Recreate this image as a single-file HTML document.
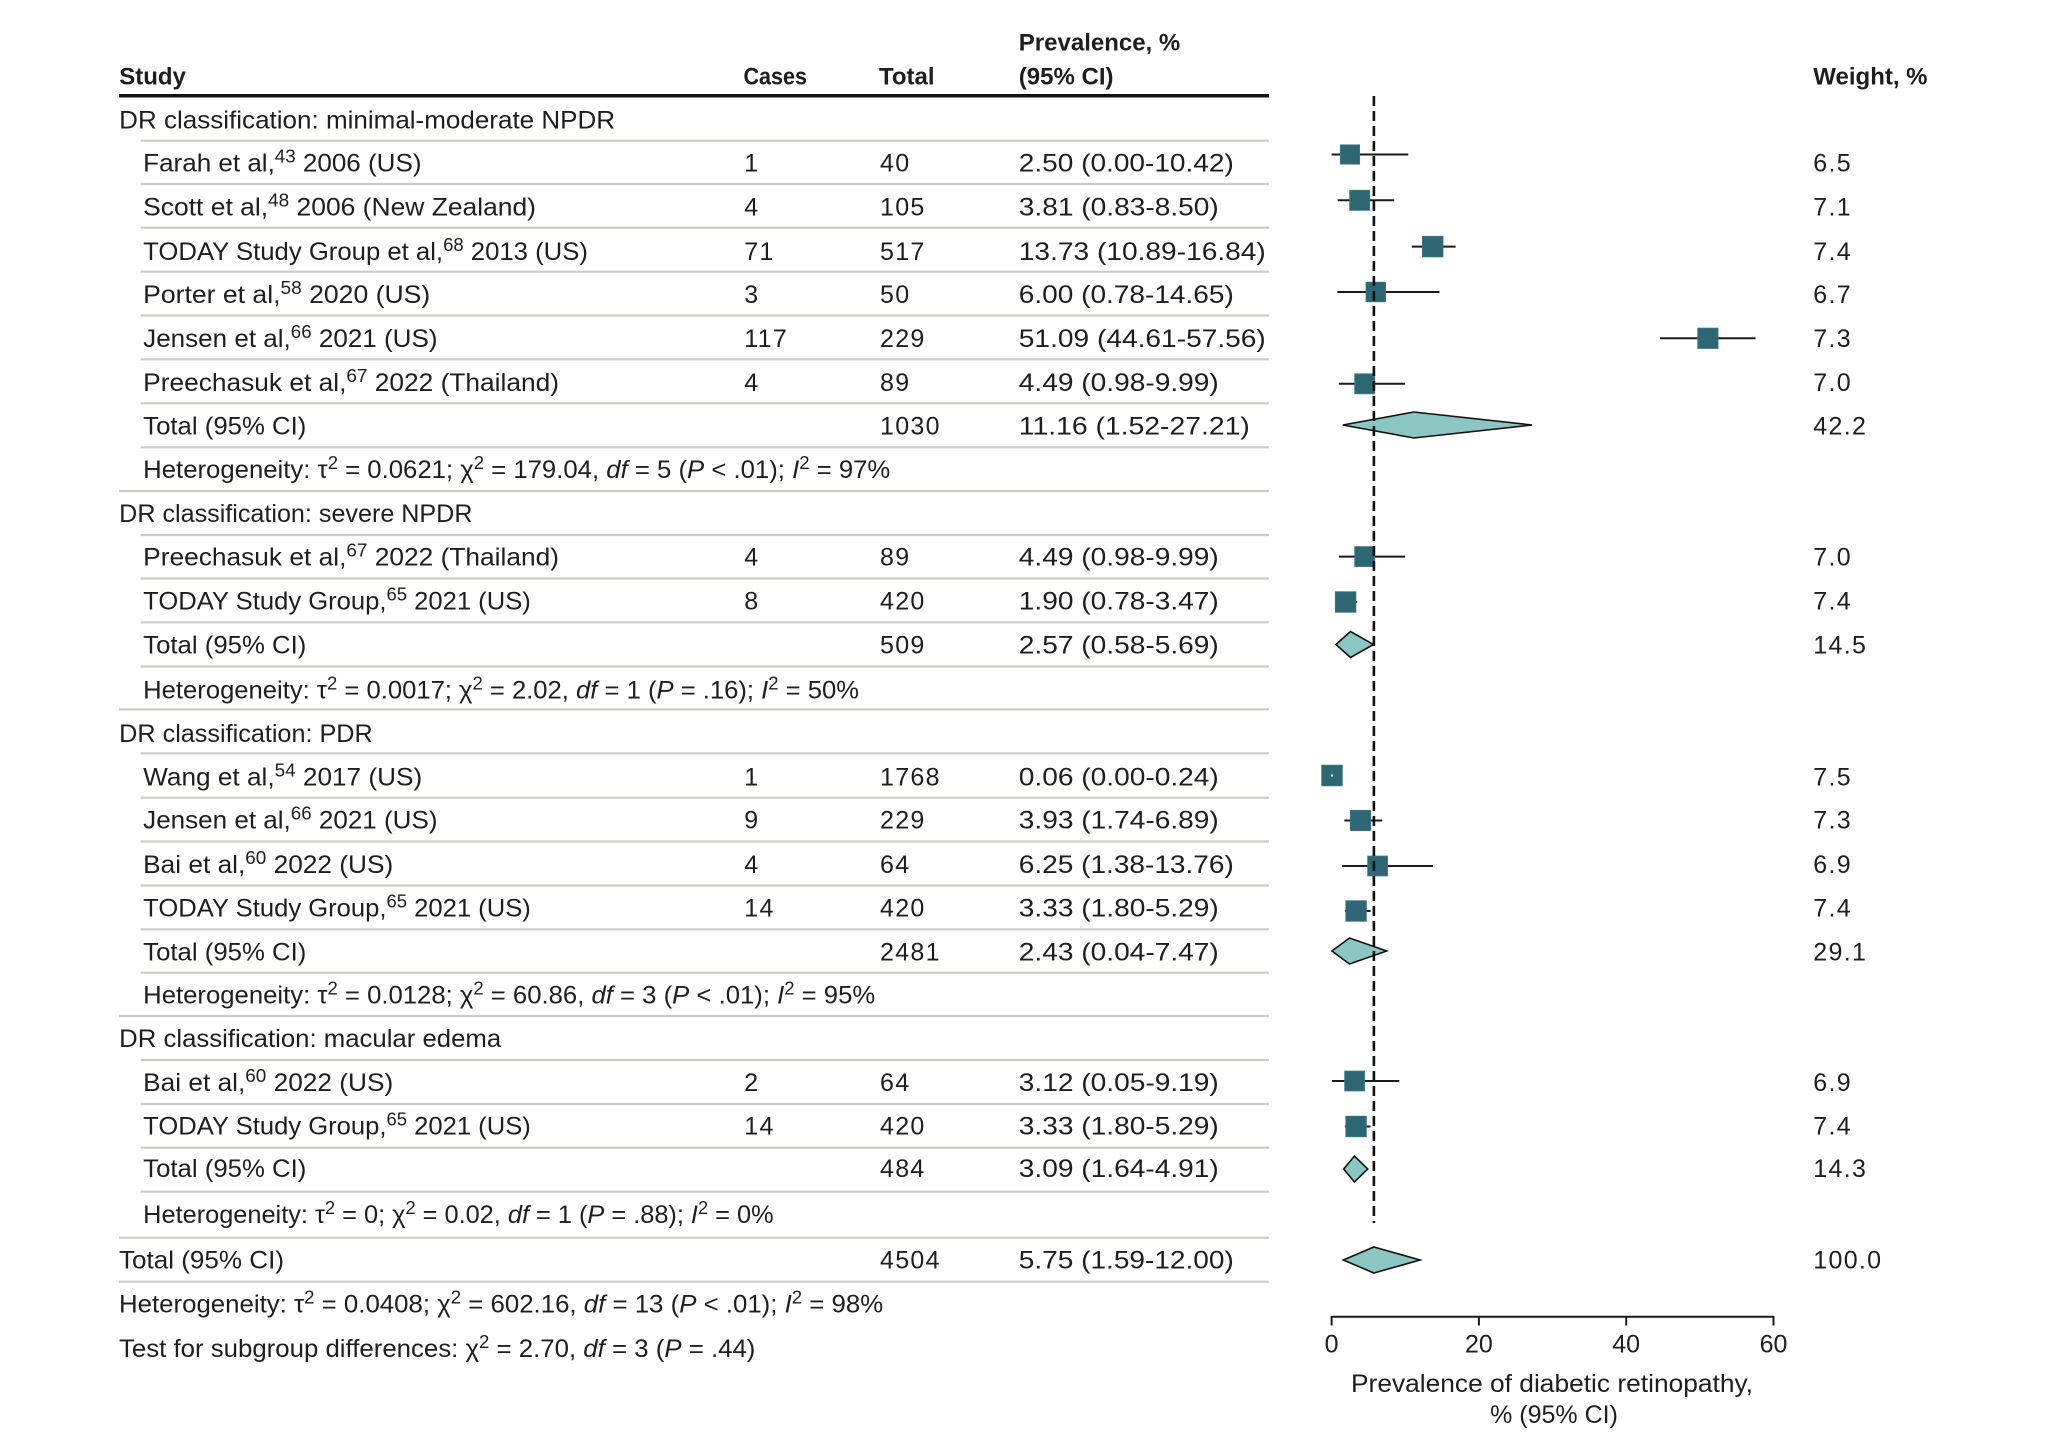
<!DOCTYPE html>
<html>
<head>
<meta charset="utf-8">
<style>
html,body{margin:0;padding:0;background:#fff;}
svg{display:block;}
text{font-family:"Liberation Sans",Arial,sans-serif;font-size:25px;fill:#1e1e1e;}
.b{font-weight:bold;font-size:24px;}
.n{letter-spacing:1.3px;}
.t{font-size:25px;}
</style>
</head>
<body>
<svg width="2048" height="1451" viewBox="0 0 2048 1451" xmlns="http://www.w3.org/2000/svg">
<rect width="2048" height="1451" fill="#fff"/>

<!-- Header -->
<text class="b" x="119.2" y="84.3">Study</text>
<text class="b" x="743.5" y="84.3" textLength="63.5" lengthAdjust="spacingAndGlyphs">Cases</text>
<text class="b" x="879" y="84.3">Total</text>
<text class="b" x="1018.8" y="50.7">Prevalence, %</text>
<text class="b" x="1018.8" y="84.3">(95% CI)</text>
<text class="b" x="1813.3" y="84.3">Weight, %</text>
<line x1="119" y1="95.7" x2="1269" y2="95.7" stroke="#111" stroke-width="3.5"/>

<!-- Row separator lines -->
<g stroke="#cbcbc8" stroke-width="2.2">
<line x1="140.6" y1="140.7" x2="1269" y2="140.7"/>
<line x1="140.6" y1="184" x2="1269" y2="184"/>
<line x1="140.6" y1="227.7" x2="1269" y2="227.7"/>
<line x1="140.6" y1="271.7" x2="1269" y2="271.7"/>
<line x1="140.6" y1="315.5" x2="1269" y2="315.5"/>
<line x1="140.6" y1="359.3" x2="1269" y2="359.3"/>
<line x1="140.6" y1="403.3" x2="1269" y2="403.3"/>
<line x1="140.6" y1="447.3" x2="1269" y2="447.3"/>
<line x1="119" y1="491" x2="1269" y2="491"/>
<line x1="140.6" y1="535" x2="1269" y2="535"/>
<line x1="140.6" y1="578.5" x2="1269" y2="578.5"/>
<line x1="140.6" y1="622.3" x2="1269" y2="622.3"/>
<line x1="140.6" y1="666.5" x2="1269" y2="666.5"/>
<line x1="119" y1="709.3" x2="1269" y2="709.3"/>
<line x1="140.6" y1="753.3" x2="1269" y2="753.3"/>
<line x1="140.6" y1="797.7" x2="1269" y2="797.7"/>
<line x1="140.6" y1="841.5" x2="1269" y2="841.5"/>
<line x1="140.6" y1="885.5" x2="1269" y2="885.5"/>
<line x1="140.6" y1="929.3" x2="1269" y2="929.3"/>
<line x1="140.6" y1="972.7" x2="1269" y2="972.7"/>
<line x1="119" y1="1016" x2="1269" y2="1016"/>
<line x1="140.6" y1="1060" x2="1269" y2="1060"/>
<line x1="140.6" y1="1104" x2="1269" y2="1104"/>
<line x1="140.6" y1="1147.7" x2="1269" y2="1147.7"/>
<line x1="140.6" y1="1191.7" x2="1269" y2="1191.7"/>
<line x1="119" y1="1237.7" x2="1269" y2="1237.7"/>
<line x1="119" y1="1281.7" x2="1269" y2="1281.7"/>
</g>

<!-- Group 1 -->
<text x="119.2" y="128.7" textLength="495.9" lengthAdjust="spacingAndGlyphs">DR classification: minimal-moderate NPDR</text>

<text x="143.2" y="171.7" textLength="278.3" lengthAdjust="spacingAndGlyphs">Farah et al,<tspan dy="-9" font-size="18">43</tspan><tspan dy="9"> 2006 (US)</tspan></text>
<text class="n" x="744.3" y="171.7">1</text>
<text class="n" x="880" y="171.7">40</text>
<text x="1018.8" y="171.7" textLength="215" lengthAdjust="spacingAndGlyphs">2.50 (0.00-10.42)</text>
<text class="n" x="1813.3" y="171.7">6.5</text>

<text x="143.2" y="215.7" textLength="392.8" lengthAdjust="spacingAndGlyphs">Scott et al,<tspan dy="-9" font-size="18">48</tspan><tspan dy="9"> 2006 (New Zealand)</tspan></text>
<text class="n" x="744.3" y="215.7">4</text>
<text class="n" x="880" y="215.7">105</text>
<text x="1018.8" y="215.7" textLength="200" lengthAdjust="spacingAndGlyphs">3.81 (0.83-8.50)</text>
<text class="n" x="1813.3" y="215.7">7.1</text>

<text x="143.2" y="260" textLength="444.7" lengthAdjust="spacingAndGlyphs">TODAY Study Group et al,<tspan dy="-9" font-size="18">68</tspan><tspan dy="9"> 2013 (US)</tspan></text>
<text class="n" x="744.3" y="260">71</text>
<text class="n" x="880" y="260">517</text>
<text x="1018.8" y="260" textLength="247" lengthAdjust="spacingAndGlyphs">13.73 (10.89-16.84)</text>
<text class="n" x="1813.3" y="260">7.4</text>

<text x="143.2" y="303" textLength="287" lengthAdjust="spacingAndGlyphs">Porter et al,<tspan dy="-9" font-size="18">58</tspan><tspan dy="9"> 2020 (US)</tspan></text>
<text class="n" x="744.3" y="303">3</text>
<text class="n" x="880" y="303">50</text>
<text x="1018.8" y="303" textLength="215" lengthAdjust="spacingAndGlyphs">6.00 (0.78-14.65)</text>
<text class="n" x="1813.3" y="303">6.7</text>

<text x="143.2" y="347" textLength="294.3" lengthAdjust="spacingAndGlyphs">Jensen et al,<tspan dy="-9" font-size="18">66</tspan><tspan dy="9"> 2021 (US)</tspan></text>
<text class="n" x="744.3" y="347">117</text>
<text class="n" x="880" y="347">229</text>
<text x="1018.8" y="347" textLength="247" lengthAdjust="spacingAndGlyphs">51.09 (44.61-57.56)</text>
<text class="n" x="1813.3" y="347">7.3</text>

<text x="143.2" y="391.2" textLength="415.8" lengthAdjust="spacingAndGlyphs">Preechasuk et al,<tspan dy="-9" font-size="18">67</tspan><tspan dy="9"> 2022 (Thailand)</tspan></text>
<text class="n" x="744.3" y="391.2">4</text>
<text class="n" x="880" y="391.2">89</text>
<text x="1018.8" y="391.2" textLength="200" lengthAdjust="spacingAndGlyphs">4.49 (0.98-9.99)</text>
<text class="n" x="1813.3" y="391.2">7.0</text>

<text x="143.2" y="434.5" textLength="163.2" lengthAdjust="spacingAndGlyphs">Total (95% CI)</text>
<text class="n" x="880" y="434.5">1030</text>
<text x="1018.8" y="434.5" textLength="231" lengthAdjust="spacingAndGlyphs">11.16 (1.52-27.21)</text>
<text class="n" x="1813.3" y="434.5">42.2</text>

<text x="143.2" y="478" textLength="747.1" lengthAdjust="spacingAndGlyphs">Heterogeneity: τ<tspan dy="-9" font-size="18">2</tspan><tspan dy="9"> = 0.0621; χ</tspan><tspan dy="-9" font-size="18">2</tspan><tspan dy="9"> = 179.04, </tspan><tspan font-style="italic">df</tspan> = 5 (<tspan font-style="italic">P</tspan> &lt; .01); <tspan font-style="italic">I</tspan><tspan dy="-9" font-size="18">2</tspan><tspan dy="9"> = 97%</tspan></text>

<!-- Group 2 -->
<text x="119.2" y="522.2" textLength="353.3" lengthAdjust="spacingAndGlyphs">DR classification: severe NPDR</text>

<text x="143.2" y="565.7" textLength="415.8" lengthAdjust="spacingAndGlyphs">Preechasuk et al,<tspan dy="-9" font-size="18">67</tspan><tspan dy="9"> 2022 (Thailand)</tspan></text>
<text class="n" x="744.3" y="565.7">4</text>
<text class="n" x="880" y="565.7">89</text>
<text x="1018.8" y="565.7" textLength="200" lengthAdjust="spacingAndGlyphs">4.49 (0.98-9.99)</text>
<text class="n" x="1813.3" y="565.7">7.0</text>

<text x="143.2" y="609.7" textLength="387.6" lengthAdjust="spacingAndGlyphs">TODAY Study Group,<tspan dy="-9" font-size="18">65</tspan><tspan dy="9"> 2021 (US)</tspan></text>
<text class="n" x="744.3" y="609.7">8</text>
<text class="n" x="880" y="609.7">420</text>
<text x="1018.8" y="609.7" textLength="200" lengthAdjust="spacingAndGlyphs">1.90 (0.78-3.47)</text>
<text class="n" x="1813.3" y="609.7">7.4</text>

<text x="143.2" y="653.7" textLength="163.2" lengthAdjust="spacingAndGlyphs">Total (95% CI)</text>
<text class="n" x="880" y="653.7">509</text>
<text x="1018.8" y="653.7" textLength="200" lengthAdjust="spacingAndGlyphs">2.57 (0.58-5.69)</text>
<text class="n" x="1813.3" y="653.7">14.5</text>

<text x="143.2" y="698.7" textLength="715.8" lengthAdjust="spacingAndGlyphs">Heterogeneity: τ<tspan dy="-9" font-size="18">2</tspan><tspan dy="9"> = 0.0017; χ</tspan><tspan dy="-9" font-size="18">2</tspan><tspan dy="9"> = 2.02, </tspan><tspan font-style="italic">df</tspan> = 1 (<tspan font-style="italic">P</tspan> = .16); <tspan font-style="italic">I</tspan><tspan dy="-9" font-size="18">2</tspan><tspan dy="9"> = 50%</tspan></text>

<!-- Group 3 -->
<text x="119.2" y="742" textLength="253.5" lengthAdjust="spacingAndGlyphs">DR classification: PDR</text>

<text x="143.2" y="785.4" textLength="279" lengthAdjust="spacingAndGlyphs">Wang et al,<tspan dy="-9" font-size="18">54</tspan><tspan dy="9"> 2017 (US)</tspan></text>
<text class="n" x="744.3" y="785.4">1</text>
<text class="n" x="880" y="785.4">1768</text>
<text x="1018.8" y="785.4" textLength="200" lengthAdjust="spacingAndGlyphs">0.06 (0.00-0.24)</text>
<text class="n" x="1813.3" y="785.4">7.5</text>

<text x="143.2" y="828.7" textLength="294.3" lengthAdjust="spacingAndGlyphs">Jensen et al,<tspan dy="-9" font-size="18">66</tspan><tspan dy="9"> 2021 (US)</tspan></text>
<text class="n" x="744.3" y="828.7">9</text>
<text class="n" x="880" y="828.7">229</text>
<text x="1018.8" y="828.7" textLength="200" lengthAdjust="spacingAndGlyphs">3.93 (1.74-6.89)</text>
<text class="n" x="1813.3" y="828.7">7.3</text>

<text x="143.2" y="873" textLength="250" lengthAdjust="spacingAndGlyphs">Bai et al,<tspan dy="-9" font-size="18">60</tspan><tspan dy="9"> 2022 (US)</tspan></text>
<text class="n" x="744.3" y="873">4</text>
<text class="n" x="880" y="873">64</text>
<text x="1018.8" y="873" textLength="215" lengthAdjust="spacingAndGlyphs">6.25 (1.38-13.76)</text>
<text class="n" x="1813.3" y="873">6.9</text>

<text x="143.2" y="916.7" textLength="387.6" lengthAdjust="spacingAndGlyphs">TODAY Study Group,<tspan dy="-9" font-size="18">65</tspan><tspan dy="9"> 2021 (US)</tspan></text>
<text class="n" x="744.3" y="916.7">14</text>
<text class="n" x="880" y="916.7">420</text>
<text x="1018.8" y="916.7" textLength="200" lengthAdjust="spacingAndGlyphs">3.33 (1.80-5.29)</text>
<text class="n" x="1813.3" y="916.7">7.4</text>

<text x="143.2" y="960.4" textLength="163.2" lengthAdjust="spacingAndGlyphs">Total (95% CI)</text>
<text class="n" x="880" y="960.4">2481</text>
<text x="1018.8" y="960.4" textLength="200" lengthAdjust="spacingAndGlyphs">2.43 (0.04-7.47)</text>
<text class="n" x="1813.3" y="960.4">29.1</text>

<text x="143.2" y="1003.7" textLength="732" lengthAdjust="spacingAndGlyphs">Heterogeneity: τ<tspan dy="-9" font-size="18">2</tspan><tspan dy="9"> = 0.0128; χ</tspan><tspan dy="-9" font-size="18">2</tspan><tspan dy="9"> = 60.86, </tspan><tspan font-style="italic">df</tspan> = 3 (<tspan font-style="italic">P</tspan> &lt; .01); <tspan font-style="italic">I</tspan><tspan dy="-9" font-size="18">2</tspan><tspan dy="9"> = 95%</tspan></text>

<!-- Group 4 -->
<text x="119.2" y="1047" textLength="382" lengthAdjust="spacingAndGlyphs">DR classification: macular edema</text>

<text x="143.2" y="1091.2" textLength="250" lengthAdjust="spacingAndGlyphs">Bai et al,<tspan dy="-9" font-size="18">60</tspan><tspan dy="9"> 2022 (US)</tspan></text>
<text class="n" x="744.3" y="1091.2">2</text>
<text class="n" x="880" y="1091.2">64</text>
<text x="1018.8" y="1091.2" textLength="200" lengthAdjust="spacingAndGlyphs">3.12 (0.05-9.19)</text>
<text class="n" x="1813.3" y="1091.2">6.9</text>

<text x="143.2" y="1134.7" textLength="387.6" lengthAdjust="spacingAndGlyphs">TODAY Study Group,<tspan dy="-9" font-size="18">65</tspan><tspan dy="9"> 2021 (US)</tspan></text>
<text class="n" x="744.3" y="1134.7">14</text>
<text class="n" x="880" y="1134.7">420</text>
<text x="1018.8" y="1134.7" textLength="200" lengthAdjust="spacingAndGlyphs">3.33 (1.80-5.29)</text>
<text class="n" x="1813.3" y="1134.7">7.4</text>

<text x="143.2" y="1177" textLength="163.2" lengthAdjust="spacingAndGlyphs">Total (95% CI)</text>
<text class="n" x="880" y="1177">484</text>
<text x="1018.8" y="1177" textLength="200" lengthAdjust="spacingAndGlyphs">3.09 (1.64-4.91)</text>
<text class="n" x="1813.3" y="1177">14.3</text>

<text x="143.2" y="1223" textLength="630.4" lengthAdjust="spacingAndGlyphs">Heterogeneity: τ<tspan dy="-9" font-size="18">2</tspan><tspan dy="9"> = 0; χ</tspan><tspan dy="-9" font-size="18">2</tspan><tspan dy="9"> = 0.02, </tspan><tspan font-style="italic">df</tspan> = 1 (<tspan font-style="italic">P</tspan> = .88); <tspan font-style="italic">I</tspan><tspan dy="-9" font-size="18">2</tspan><tspan dy="9"> = 0%</tspan></text>

<!-- Overall -->
<text x="119" y="1268.7" textLength="165" lengthAdjust="spacingAndGlyphs">Total (95% CI)</text>
<text class="n" x="880" y="1268.7">4504</text>
<text x="1018.8" y="1268.7" textLength="215" lengthAdjust="spacingAndGlyphs">5.75 (1.59-12.00)</text>
<text class="n" x="1813.3" y="1268.7">100.0</text>

<text x="119" y="1312.7" textLength="764.2" lengthAdjust="spacingAndGlyphs">Heterogeneity: τ<tspan dy="-9" font-size="18">2</tspan><tspan dy="9"> = 0.0408; χ</tspan><tspan dy="-9" font-size="18">2</tspan><tspan dy="9"> = 602.16, </tspan><tspan font-style="italic">df</tspan> = 13 (<tspan font-style="italic">P</tspan> &lt; .01); <tspan font-style="italic">I</tspan><tspan dy="-9" font-size="18">2</tspan><tspan dy="9"> = 98%</tspan></text>

<text x="119" y="1357" textLength="636.4" lengthAdjust="spacingAndGlyphs">Test for subgroup differences: χ<tspan dy="-9" font-size="18">2</tspan><tspan dy="9"> = 2.70, </tspan><tspan font-style="italic">df</tspan> = 3 (<tspan font-style="italic">P</tspan> = .44)</text>

<!-- Forest plot: CI lines -->
<g stroke="#1a1a1a" stroke-width="2">
<line x1="1331.6" y1="154.5" x2="1408.3" y2="154.5"/>
<line x1="1337.7" y1="200.3" x2="1394.2" y2="200.3"/>
<line x1="1411.8" y1="246.6" x2="1455.6" y2="246.6"/>
<line x1="1337.3" y1="292" x2="1439.5" y2="292"/>
<line x1="1660.1" y1="338.3" x2="1755.5" y2="338.3"/>
<line x1="1338.8" y1="383.8" x2="1405.2" y2="383.8"/>
<line x1="1338.8" y1="556.6" x2="1405.2" y2="556.6"/>
<line x1="1337.3" y1="602" x2="1357.2" y2="602"/>
<line x1="1331.6" y1="775.5" x2="1333.4" y2="775.5"/>
<line x1="1344.4" y1="820.5" x2="1382.3" y2="820.5"/>
<line x1="1341.8" y1="866" x2="1432.9" y2="866"/>
<line x1="1344.9" y1="911" x2="1370.6" y2="911"/>
<line x1="1332.0" y1="1081" x2="1399.3" y2="1081"/>
<line x1="1344.9" y1="1126.5" x2="1370.6" y2="1126.5"/>
</g>

<!-- Squares -->
<g fill="#2e6674" stroke="#3d7885" stroke-width="0.8">
<rect x="1340.35" y="144.85" width="19.3" height="19.3"/>
<rect x="1349.65" y="190.25" width="20.1" height="20.1"/>
<rect x="1422.4" y="236.3" width="20.6" height="20.6"/>
<rect x="1366" y="282.2" width="19.6" height="19.6"/>
<rect x="1697.7" y="328.1" width="20.4" height="20.4"/>
<rect x="1354.7" y="373.8" width="20" height="20"/>
<rect x="1354.7" y="546.6" width="20" height="20"/>
<rect x="1335.3" y="591.7" width="20.6" height="20.6"/>
<rect x="1321.65" y="765.15" width="20.7" height="20.7"/>
<rect x="1350.3" y="810.3" width="20.4" height="20.4"/>
<rect x="1367.65" y="856.05" width="19.9" height="19.9"/>
<rect x="1345.8" y="900.7" width="20.6" height="20.6"/>
<rect x="1344.65" y="1071.05" width="19.9" height="19.9"/>
<rect x="1345.8" y="1116.2" width="20.6" height="20.6"/>
</g>
<rect x="1331" y="774.5" width="2" height="2" fill="#fff"/>

<!-- Diamonds -->
<g fill="#8bc6c3" stroke="#111" stroke-width="1.6" stroke-linejoin="miter">
<polygon points="1342.8,425 1413.8,412 1532.0,425 1413.8,438"/>
<polygon points="1335.9,644.5 1350.5,631.5 1373.5,644.5 1350.5,657.5"/>
<polygon points="1331.9,951 1349.5,938 1386.6,951 1349.5,964"/>
<polygon points="1343.7,1169 1354.4,1156 1367.8,1169 1354.4,1182"/>
<polygon points="1343.3,1260 1373.9,1247 1420.0,1260 1373.9,1273"/>
</g>

<!-- Dashed reference line -->
<line x1="1373.9" y1="96" x2="1373.9" y2="1223" stroke="#111" stroke-width="2.6" stroke-dasharray="10,5"/>

<!-- Axis -->
<g stroke="#1a1a1a" stroke-width="2">
<line x1="1331.6" y1="1316.7" x2="1773.5" y2="1316.7"/>
<line x1="1331.6" y1="1316" x2="1331.6" y2="1325.5"/>
<line x1="1478.9" y1="1316" x2="1478.9" y2="1325.5"/>
<line x1="1626.2" y1="1316" x2="1626.2" y2="1325.5"/>
<line x1="1773.5" y1="1316" x2="1773.5" y2="1325.5"/>
</g>
<text class="t" x="1331.6" y="1352.5" text-anchor="middle">0</text>
<text class="t" x="1478.9" y="1352.5" text-anchor="middle">20</text>
<text class="t" x="1626.2" y="1352.5" text-anchor="middle">40</text>
<text class="t" x="1773.5" y="1352.5" text-anchor="middle">60</text>
<text x="1552" y="1392" text-anchor="middle" textLength="402" lengthAdjust="spacingAndGlyphs">Prevalence of diabetic retinopathy,</text>
<text x="1554" y="1423" text-anchor="middle">% (95% CI)</text>
</svg>
</body>
</html>
